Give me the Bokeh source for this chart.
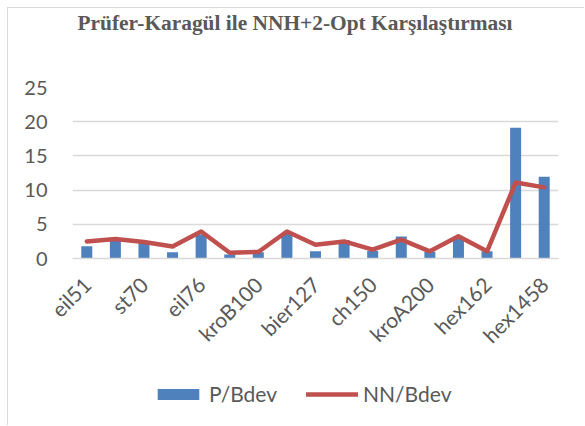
from bokeh.plotting import figure
from bokeh.models import Range1d, FixedTicker, Legend, LegendItem, Title
from bokeh.layouts import column
from bokeh.embed import file_html
from bokeh.resources import INLINE
import math

# ---- data ----
instances = ["eil51", "berlin52", "st70", "pr76", "eil76", "kroA100", "kroB100", "pr124",
             "bier127", "ch130", "ch150", "kroA150", "kroA200", "kroB200", "hex162", "hex642",
             "hex1458"]
p_bdev = [1.8, 2.6, 2.3, 0.9, 3.5, 0.6, 0.9, 3.6, 1.05, 2.7, 1.1, 3.2, 1.0, 3.0, 1.05, 19.1, 11.95]
nn_bdev = [2.5, 2.85, 2.4, 1.75, 3.95, 0.85, 0.95, 3.95, 2.0, 2.5, 1.3, 2.75, 1.05, 3.25, 1.05, 11.1, 10.4]
y_ticks = [0, 5, 10, 15, 20, 25]
title_text = "Prüfer-Karagül ile NNH+2-Opt Karşılaştırması"
series_names = ["P/Bdev", "NN/Bdev"]

xs = list(range(1, len(instances) + 1))

GRAY_TXT = "#595959"
GRID = "#D9D9D9"
BLUE = "#4F81BD"
RED = "#C0504D"

p = figure(width=577, height=360, output_backend="svg", toolbar_location=None,
           x_range=Range1d(0.5, len(instances) + 0.5), y_range=Range1d(0, 25),
           min_border_left=64, min_border_right=27, min_border_top=77, min_border_bottom=110)

# real title (outermost) and a spacer title nearest the frame
p.title = Title(text=title_text, align="left", text_font="Liberation Serif",
                text_font_style="bold", text_font_size="21.4px", text_color=GRAY_TXT,
                offset=5, standoff=0)
p.add_layout(Title(text=" ", text_font_size="1px", standoff=50), "above")

p.outline_line_color = None
p.background_fill_color = "white"
p.border_fill_color = "white"

bars = p.vbar(x=xs, top=p_bdev, width=0.385, fill_color=BLUE, line_color=None)
line = p.line(x=xs, y=nn_bdev, line_color=RED, line_width=4.5, line_join="round", line_cap="round")

# axes
p.xaxis.ticker = FixedTicker(ticks=xs[::2])
p.xaxis.major_label_overrides = {x: instances[x - 1] for x in xs[::2]}
p.xaxis.major_label_orientation = math.pi / 4
p.xaxis.major_tick_line_color = None
p.xaxis.minor_tick_line_color = None
p.xaxis.axis_line_color = GRID
p.xaxis.axis_line_width = 1.5
p.xaxis.major_label_text_font = "Lato"
p.xaxis.major_label_text_font_size = "21px"
p.xaxis.major_label_text_color = GRAY_TXT
p.xaxis.major_label_standoff = 16

p.yaxis.ticker = FixedTicker(ticks=y_ticks)
p.yaxis.major_tick_line_color = None
p.yaxis.minor_tick_line_color = None
p.yaxis.axis_line_color = None
p.yaxis.major_label_text_font = "Lato"
p.yaxis.major_label_text_font_size = "20px"
p.yaxis.major_label_text_color = GRAY_TXT
p.yaxis.major_label_standoff = 19

p.xgrid.grid_line_color = None
p.ygrid.grid_line_color = GRID
p.ygrid.grid_line_width = 1.5

# legend strip below the chart (series drawn out of view, only legend shows)
lg = figure(width=577, height=58, output_backend="svg", toolbar_location=None,
            x_range=Range1d(100, 101), y_range=Range1d(100, 101),
            x_axis_type=None, y_axis_type=None,
            min_border_left=0, min_border_right=0, min_border_top=0, min_border_bottom=0)
lg.outline_line_color = None
lg.xgrid.grid_line_color = None
lg.ygrid.grid_line_color = None
lg.border_fill_color = "white"
lg_bar = lg.vbar(x=xs, top=p_bdev, width=0.385, fill_color=BLUE, line_color=None)
lg_line = lg.line(x=xs, y=nn_bdev, line_color=RED, line_width=4.5, line_cap="round")

legend = Legend(items=[LegendItem(label=series_names[0], renderers=[lg_bar]),
                       LegendItem(label=series_names[1], renderers=[lg_line])],
                orientation="horizontal", location=(80, 20),
                glyph_width=52, glyph_height=14, label_standoff=5, spacing=29,
                padding=0, margin=0, border_line_color=None, background_fill_alpha=0,
                label_text_font="Lato", label_text_font_size="21px", label_text_color=GRAY_TXT)
lg.add_layout(legend, "center")

layout = column(p, lg, spacing=0, margin=(8, 0, 0, 8),
                styles={"box-shadow": "-1px -1px 0 #D9D9D9"})

open("out.html", "w").write(file_html(layout, INLINE))
